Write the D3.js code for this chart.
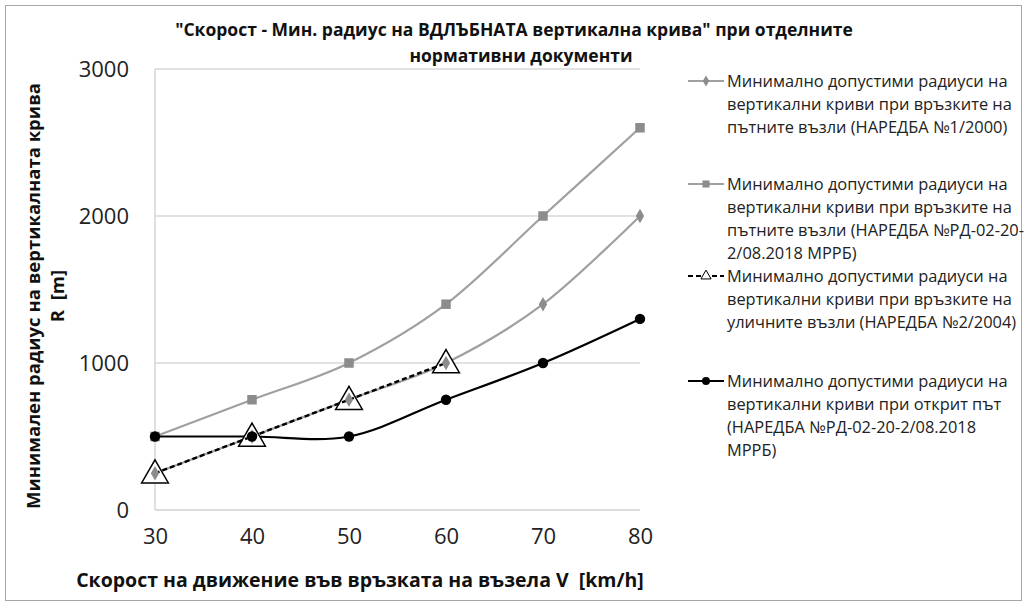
<!DOCTYPE html>
<html><head><meta charset="utf-8">
<script src="https://cdn.jsdelivr.net/npm/d3@7"></script>
<style>body{margin:0;background:#fff}svg{display:block}text{font-family:"Open Sans",sans-serif;white-space:pre}</style>
</head><body><svg id="c" width="1033" height="609"></svg>
<script>
const speeds = [30, 40, 50, 60, 70, 80];
const naredba1 = [250, 500, 750, 1000, 1400, 2000];
const naredbaRD = [500, 750, 1000, 1400, 2000, 2600];
const naredba2 = [250, 500, 750, 1000];
const otkrit = [500, 500, 500, 750, 1000, 1300];
const yTicks = [0, 1000, 2000, 3000];
const xTicks = [30, 40, 50, 60, 70, 80];
const titleLines = ['"Скорост - Мин. радиус на ВДЛЪБНАТА вертикална крива" при отделните', 'нормативни документи'];
const xTitle = "Скорост на движение във връзката на възела V  [km/h]";
const yTitleLines = ["Минимален радиус на вертикалната крива", "R  [m]"];
const legendTexts = [
 ["Минимално допустими радиуси на", "вертикални криви при връзките на", "пътните възли (НАРЕДБА №1/2000)"],
 ["Минимално допустими радиуси на", "вертикални криви при връзките на", "пътните възли (НАРЕДБА №РД-02-20-", "2/08.2018 МРРБ)"],
 ["Минимално допустими радиуси на", "вертикални криви при връзките на", "уличните възли (НАРЕДБА №2/2004)"],
 ["Минимално допустими радиуси на", "вертикални криви при открит път", "(НАРЕДБА №РД-02-20-2/08.2018", "МРРБ)"]
];

const svg = d3.select("#c");
svg.append("rect").attr("x",5.5).attr("y",5.5).attr("width",1016).attr("height",595)
  .attr("fill","#fff").attr("stroke","#a6a6a6").attr("stroke-width",1);

const x = d3.scaleLinear().domain([30,80]).range([155,640]);
const y = d3.scaleLinear().domain([0,3000]).range([510,69]);

svg.append("g").selectAll("line").data(yTicks.filter(d=>d>0)).join("line")
  .attr("x1",x(30)).attr("x2",x(80)).attr("y1",d=>y(d)).attr("y2",d=>y(d))
  .attr("stroke","#d9d9d9").attr("stroke-width",1.3);
svg.append("line").attr("x1",x(30)).attr("x2",x(80)).attr("y1",y(0)).attr("y2",y(0)).attr("stroke","#d0d0d0").attr("stroke-width",1.3);
svg.append("line").attr("x1",x(30)).attr("x2",x(30)).attr("y1",y(0)).attr("y2",y(3000)).attr("stroke","#d0d0d0").attr("stroke-width",1.3);

const yAxis = svg.append("g").attr("transform",`translate(${x(30)-26},0)`)
  .call(d3.axisLeft(y).tickValues(yTicks).tickFormat(d3.format("d")).tickSize(0).tickPadding(0));
yAxis.select(".domain").remove();
yAxis.selectAll("text").attr("font-size",22).attr("fill","#222").attr("font-family","Open Sans");
const xAxis = svg.append("g").attr("transform",`translate(0,${y(0)+18})`)
  .call(d3.axisBottom(x).tickValues(xTicks).tickFormat(d3.format("d")).tickSize(0).tickPadding(0));
xAxis.select(".domain").remove();
xAxis.selectAll("text").attr("font-size",22).attr("fill","#222").attr("font-family","Open Sans");

svg.append("g").selectAll("text").data(titleLines).join("text")
  .attr("x",(d,i)=>i===0?514:521).attr("y",(d,i)=>36+i*26).attr("text-anchor","middle")
  .attr("font-size",17.5).attr("font-weight","bold").attr("fill","#111").text(d=>d);
svg.append("text").attr("x",360).attr("y",587).attr("text-anchor","middle")
  .attr("font-size",19.5).attr("font-weight","bold").attr("fill","#111").text(xTitle);
svg.append("g").selectAll("text").data(yTitleLines).join("text")
  .attr("transform",(d,i)=>`translate(${40+i*24},296) rotate(-90)`).attr("text-anchor","middle")
  .attr("font-size",18.5).attr("font-weight","bold").attr("fill","#111").text(d=>d);

const line = d3.line().curve(d3.curveCardinal.tension(0)).x(d=>x(d[0])).y(d=>y(d[1]));
const grayLine = "#a0a0a0", grayMark = "#8c8c8c";
const series = [
  {vals:naredba1, stroke:grayLine, dash:null, sym:d3.symbolDiamond, size:60, fill:grayMark, mstroke:"none", lsize:36},
  {vals:naredbaRD, stroke:grayLine, dash:null, sym:d3.symbolSquare, size:90, fill:grayMark, mstroke:"none", lsize:50},
  {vals:otkrit, stroke:"#000", dash:null, sym:d3.symbolCircle, size:85, fill:"#000", mstroke:"none", lsize:50},
  {vals:naredba2, stroke:"#000", dash:"5,3", sym:d3.symbolTriangle, size:310, fill:"#fff", mstroke:"#000", lsize:45}
];
[1,0,2].forEach(i=>{
  const s = series[i];
  const pts = s.vals.map((v,j)=>[speeds[j],v]);
  svg.append("path").attr("d",line(pts)).attr("fill","none").attr("stroke",s.stroke).attr("stroke-width",2.2);
});
{
  const s = series[3];
  const pts = s.vals.map((v,j)=>[speeds[j],v]);
  svg.append("g").selectAll("path").data(pts).join("path")
    .attr("d",d3.symbol().type(s.sym).size(s.size)).attr("transform",d=>`translate(${x(d[0])},${y(d[1])+2})`)
    .attr("fill","#fff").attr("stroke","#000").attr("stroke-width",1.5);
  svg.append("path").attr("d",line(pts)).attr("fill","none").attr("stroke","#000").attr("stroke-width",2.4).attr("stroke-dasharray","5,3");
}
[1,0,2].forEach(i=>{
  const s = series[i];
  const pts = s.vals.map((v,j)=>[speeds[j],v]);
  svg.append("g").selectAll("path").data(pts).join("path")
    .attr("d",d3.symbol().type(s.sym).size(s.size)).attr("transform",d=>`translate(${x(d[0])},${y(d[1])})`)
    .attr("fill",s.fill);
});

const legendOrder = [0,1,3,2];
const legendY = [81,184,276,381];
legendOrder.forEach((si,k)=>{
  const s = series[si];
  const g = svg.append("g").attr("transform",`translate(0,${legendY[k]})`);
  g.append("line").attr("x1",688).attr("x2",724).attr("y1",0).attr("y2",0)
    .attr("stroke",s.stroke).attr("stroke-width",2.2).attr("stroke-dasharray",s.dash);
  g.append("path").attr("d",d3.symbol().type(s.sym).size(s.lsize)).attr("transform","translate(706,0)")
    .attr("fill",s.fill).attr("stroke",s.mstroke).attr("stroke-width",1);
  g.selectAll("text").data(legendTexts[k]).join("text")
    .attr("x",727).attr("y",(d,i)=>i*23+5.5).attr("font-size",16.4).attr("fill","#222").text(d=>d);
});
</script></body></html>
